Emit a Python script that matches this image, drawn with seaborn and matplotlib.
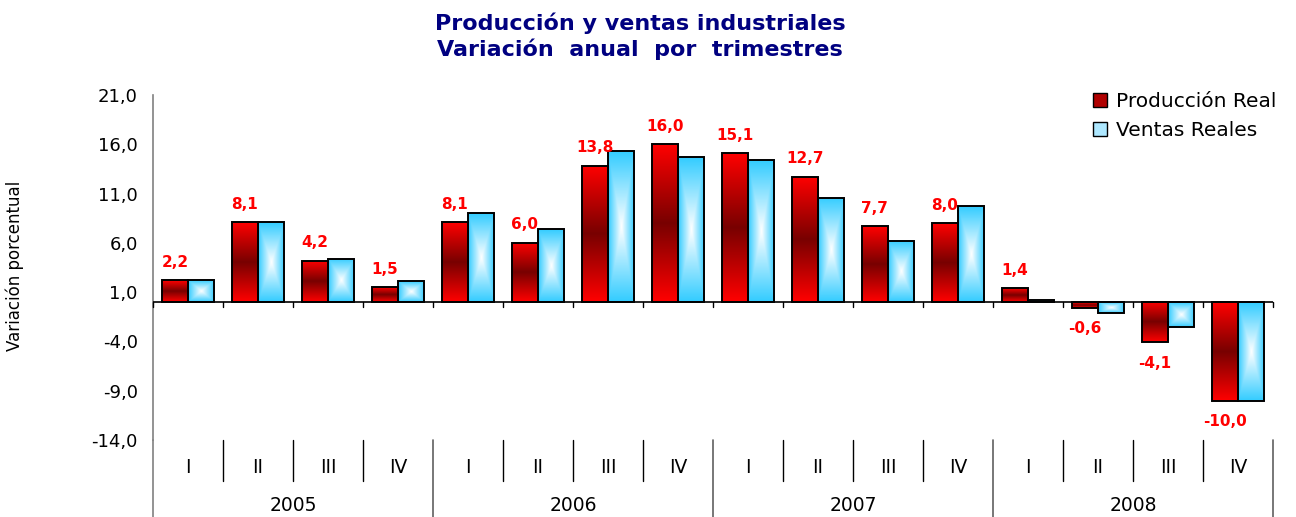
import numpy as np
import pandas as pd
import matplotlib
matplotlib.use("Agg")
import matplotlib.pyplot as plt
import matplotlib.transforms as mtransforms
import seaborn as sns
from matplotlib.colors import LinearSegmentedColormap
from matplotlib.patches import Patch

# Datos
years = ["2005", "2006", "2007", "2008"]
quarters = ["I", "II", "III", "IV"]
series = ["Producción Real", "Ventas Reales"]
produccion = [2.2, 8.1, 4.2, 1.5, 8.1, 6.0, 13.8, 16.0,
              15.1, 12.7, 7.7, 8.0, 1.4, -0.6, -4.1, -10.0]
ventas = [2.2, 8.1, 4.4, 2.1, 9.0, 7.4, 15.3, 14.7,
          14.4, 10.6, 6.2, 9.7, 0.2, -1.1, -2.5, -10.0]

periods = [f"{y}-{q}" for y in years for q in quarters]
df = pd.DataFrame({
    "periodo": periods * 2,
    "valor": produccion + ventas,
    "serie": [series[0]] * len(periods) + [series[1]] * len(periods),
})

sns.set_style("white")
plt.rcParams["font.family"] = ["DejaVu Sans"]
plt.rcParams["text.color"] = "black"
plt.rcParams["xtick.labelcolor"] = "black"
plt.rcParams["ytick.labelcolor"] = "black"

fig = plt.figure(figsize=(12.96, 5.17), dpi=100)
ax = fig.add_axes([153 / 1296, 1 - 440 / 517, 1120 / 1296, 345 / 517])

sns.barplot(data=df, x="periodo", y="valor", hue="serie", order=periods,
            hue_order=series, width=0.75, palette=["#c00000", "#7fd9ff"],
            saturation=1, edgecolor="black", linewidth=1.4, legend=False, ax=ax)

# degradados de relleno
red_cmap = LinearSegmentedColormap.from_list("rojo", ["#ff0000", "#780000", "#ff0000"])
blue_cmap = LinearSegmentedColormap.from_list("azul", ["#ffffff", "#33ccff"])
grad_v = np.linspace(0, 1, 200).reshape(-1, 1)
uu, vv = np.meshgrid(np.linspace(-1, 1, 60), np.linspace(-1, 1, 200))
grad_c = blue_cmap(np.maximum(np.abs(uu), np.abs(vv)))

for cont, kind in zip(ax.containers, ["red", "blue"]):
    for bar in cont:
        x0, y0 = bar.get_x(), bar.get_y()
        w, h = bar.get_width(), bar.get_height()
        ext = [x0, x0 + w, min(y0, y0 + h), max(y0, y0 + h)]
        if kind == "red":
            im = ax.imshow(grad_v, cmap=red_cmap, extent=ext, aspect="auto", zorder=1.5)
        else:
            im = ax.imshow(grad_c, extent=ext, aspect="auto", zorder=1.5)
        im.set_clip_path(bar)
        bar.set_facecolor("none")
        bar.set_zorder(2)

# etiquetas de produccion
for bar, v in zip(ax.containers[0], produccion):
    xc = bar.get_x() + bar.get_width() / 2
    ax.annotate(f"{v:.1f}".replace(".", ","), (xc, v),
                xytext=(0, 13 if v >= 0 else -15), textcoords="offset points",
                ha="center", va="center", color="#ff0000", fontweight="bold", fontsize=11)

ax.set_xlim(-0.5, len(periods) - 0.5)
ax.set_ylim(-14, 21)
yt = np.arange(-14, 22, 5)
ax.set_yticks(yt)
ax.set_yticklabels([f"{t:.1f}".replace(".", ",") for t in yt])
ax.tick_params(axis="y", length=5, color="#808080", labelsize=13, pad=6)
ax.set_xticks(range(len(periods)))
ax.set_xticklabels(quarters * len(years))
ax.tick_params(axis="x", length=0, labelsize=13.5, pad=13)
ax.set_xlabel("")
ax.set_ylabel("")

for s in ["top", "right", "bottom"]:
    ax.spines[s].set_visible(False)
ax.spines["left"].set_color("#808080")
ax.spines["left"].set_linewidth(1.2)

trans = mtransforms.blended_transform_factory(ax.transData, ax.transAxes)
ax.axhline(0, color="black", lw=1.2, zorder=3)
ax.plot([-0.5, -0.5], [0, -0.225], transform=trans, clip_on=False, color="#808080", lw=1.2)
for b in np.arange(-0.5, len(periods), 1):
    ax.plot([b, b], [0, -0.5], color="black", lw=1, clip_on=False, zorder=3)
    if b < 0:
        continue
    if (b + 0.5) % 4 == 0:
        ax.plot([b, b], [0, -0.225], transform=trans, clip_on=False, color="#606060", lw=1.2)
    else:
        ax.plot([b, b], [0, -0.12], transform=trans, clip_on=False, color="black", lw=1)

for i, y in enumerate(years):
    ax.text(i * 4 + 1.5, -0.19, y, transform=trans, ha="center", va="center", fontsize=13.5)

fig.text(15 / 1296, 1 - 266 / 517, "Variación porcentual", rotation=90,
         ha="center", va="center", fontsize=12)

fig.text(0.494, 1 - 23 / 517, "Producción y ventas industriales", ha="center", va="center",
         fontsize=16, fontweight="bold", color="#000080")
fig.text(0.494, 1 - 49 / 517, "Variación  anual  por  trimestres", ha="center", va="center",
         fontsize=16, fontweight="bold", color="#000080")

handles = [Patch(facecolor="#b00000", edgecolor="black"),
           Patch(facecolor="#aee8ff", edgecolor="black")]
fig.legend(handles, series, loc="upper right", bbox_to_anchor=(1294 / 1296, 1 - 74 / 517),
           frameon=False, fontsize=14.5, handlelength=0.7, handleheight=0.7,
           handletextpad=0.4, labelspacing=0.5)

fig.savefig("out.png", dpi=100)
